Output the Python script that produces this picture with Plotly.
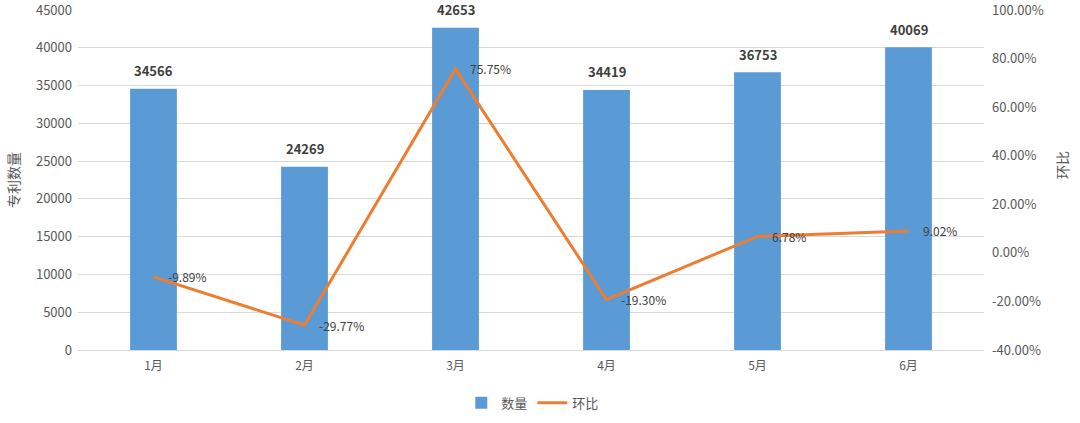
import plotly.graph_objects as go

months = ["1月", "2月", "3月", "4月", "5月", "6月"]
counts = [34566, 24269, 42653, 34419, 36753, 40069]
mom = [-0.0989, -0.2977, 0.7575, -0.1930, 0.0678, 0.0902]
mom_labels = ["-9.89%", "-29.77%", "75.75%", "-19.30%", "6.78%", "9.02%"]
left_ticks = [0, 5000, 10000, 15000, 20000, 25000, 30000, 35000, 40000, 45000]
right_ticks = [-0.4, -0.2, 0.0, 0.2, 0.4, 0.6, 0.8, 1.0]
right_tick_text = ["-40.00%", "-20.00%", "0.00%", "20.00%", "40.00%", "60.00%", "80.00%", "100.00%"]

font_family = "Noto Sans CJK SC, Open Sans, sans-serif"
gray = "#595959"

fig = go.Figure()
fig.add_trace(go.Bar(
    x=months, y=counts, name="数量",
    marker=dict(color="#5B9BD5", line=dict(width=0)),
    width=0.31,
))
fig.add_trace(go.Scatter(
    x=months, y=mom, name="环比", yaxis="y2",
    mode="lines", line=dict(color="#ED7D31", width=3),
))
for m, v in zip(months, counts):
    fig.add_annotation(x=m, y=v, yref="y", text=f"<b>{v}</b>", showarrow=False,
                       xanchor="center", yanchor="middle", yshift=18,
                       font=dict(family=font_family, size=13, color="#404040"))
for m, v, t in zip(months, mom, mom_labels):
    fig.add_annotation(x=m, y=v, yref="y2", text=t, showarrow=False,
                       xanchor="left", yanchor="middle", xshift=12,
                       font=dict(family=font_family, size=12, color="#404040"))

fig.add_annotation(x=-0.0717, y=0.5, xref="paper", yref="paper", text="专利数量",
                   showarrow=False, textangle=-90, xanchor="center", yanchor="middle",
                   font=dict(size=14, color=gray))
fig.add_annotation(x=1.086, y=0.544, xref="paper", yref="paper", text="环比",
                   showarrow=False, textangle=-90, xanchor="center", yanchor="middle",
                   font=dict(size=14, color=gray))

fig.update_layout(
    width=1080, height=423,
    margin=dict(l=78, r=96, t=10, b=73, autoexpand=False),
    paper_bgcolor="white", plot_bgcolor="white",
    font=dict(family=font_family, size=12, color=gray),
    bargap=0.69,
    showlegend=True,
    legend=dict(orientation="h", x=0.502, xanchor="center", y=-0.155, yanchor="middle",
                font=dict(size=13, color=gray), traceorder="normal"),
    xaxis=dict(showgrid=False, showline=True, linecolor="#D9D9D9", ticks="",
               automargin=False, ticklabelstandoff=5, tickfont=dict(size=12, color=gray)),
    yaxis=dict(range=[0, 45000], tickvals=left_ticks, ticktext=[str(v) for v in left_ticks],
               showgrid=True, gridcolor="#D9D9D9", automargin=False, ticklabelstandoff=5,
               ticklabeloverflow="allow",
               zeroline=False, tickfont=dict(size=13, color=gray)),
    yaxis2=dict(range=[-0.4, 1.0], tickvals=right_ticks, ticktext=right_tick_text,
                overlaying="y", side="right", automargin=False, ticklabelstandoff=7,
                ticklabeloverflow="allow",
                showgrid=False, zeroline=False, tickfont=dict(size=13, color=gray)),
)

fig.write_html("out.html", config={"displayModeBar": False},
               post_script="document.body.style.margin='0';")
